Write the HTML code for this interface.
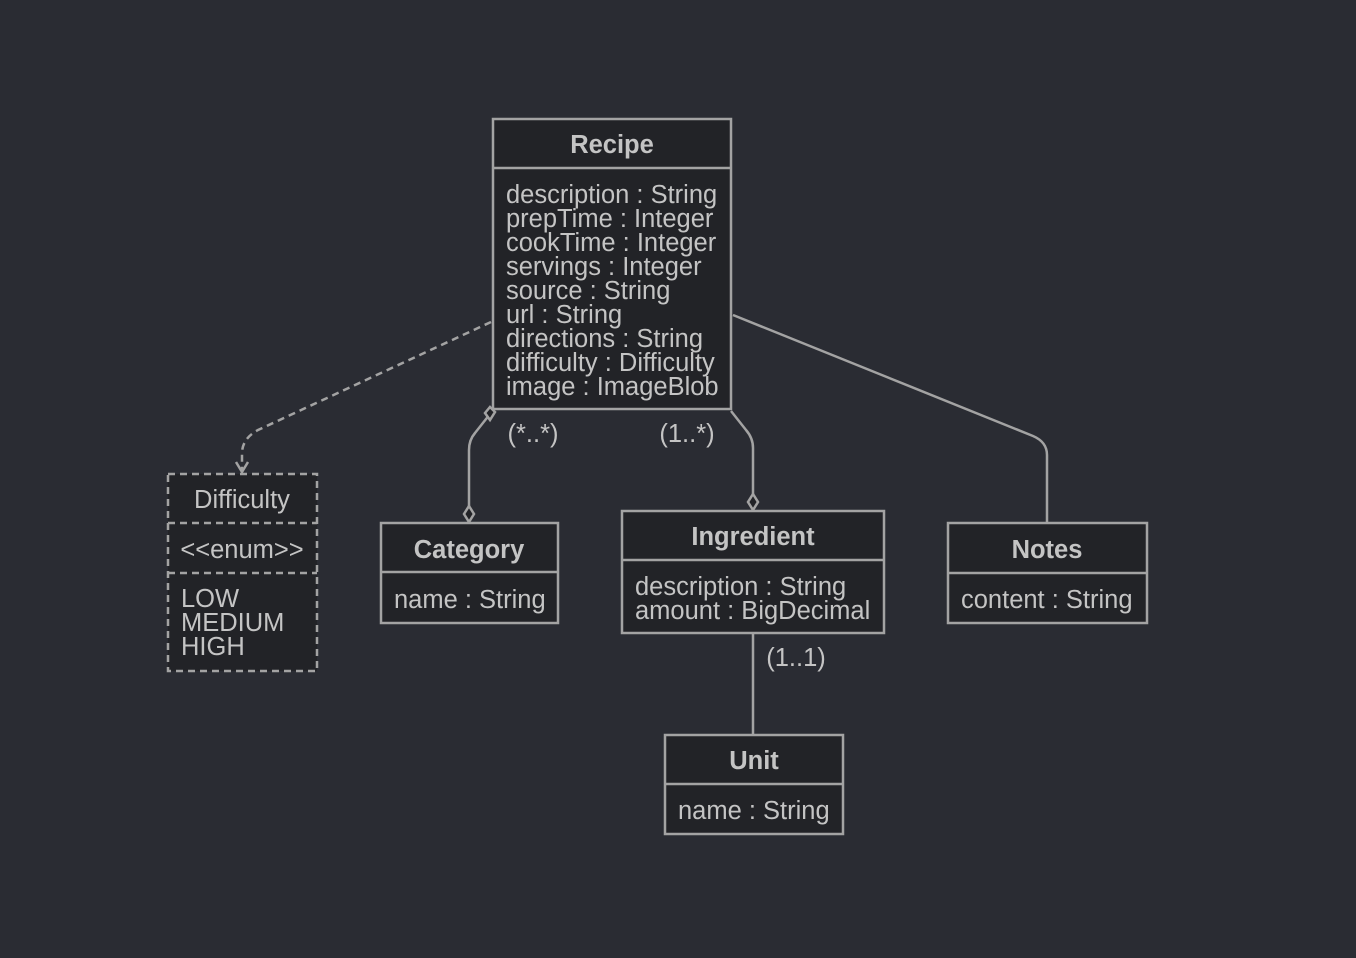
<!DOCTYPE html>
<html><head><style>
html,body{margin:0;padding:0;background:#2a2c33;}
svg{display:block;}
text{font-family:"Liberation Sans",sans-serif;fill:#c4c4c4;font-size:25.5px;}
.b{font-weight:bold;}
</style></head><body>
<svg width="1356" height="958" viewBox="0 0 1356 958">
<rect width="1356" height="958" fill="#2a2c33"/>
<g stroke="#a3a3a3" stroke-width="2.5" fill="none">
<path d="M491,322 L258,430 Q243,438 242,452 L242,470" stroke-dasharray="7,5"/>
<path d="M236,462 L242,472 L248,462"/>
<path d="M490,414 L475,433 Q469,440 469,450 L469,511"/>
<path d="M731,411 L746,430 Q753,438 753,448 L753,497"/>
<path d="M733,315 L1033,436 Q1047,442 1047,455 L1047,523"/>
<path d="M753,633 L753,735"/>
</g>
<g fill="#222327" stroke="#a3a3a3" stroke-width="2.5">
<path d="M490,407 L495,412 L490,420 L485,413 Z"/>
<path d="M469,506 L474,514 L469,522 L464,514 Z"/>
<path d="M753,494 L758,502 L753,510 L748,502 Z"/>
<rect x="493" y="119" width="238" height="290"/>
<line x1="493" y1="168" x2="731" y2="168"/>
<rect x="168" y="474" width="149" height="197" stroke-dasharray="7,5"/>
<line x1="168" y1="523" x2="317" y2="523" stroke-dasharray="7,5"/>
<line x1="168" y1="573" x2="317" y2="573" stroke-dasharray="7,5"/>
<rect x="381" y="523" width="177" height="100"/>
<line x1="381" y1="572" x2="558" y2="572"/>
<rect x="622" y="511" width="262" height="122"/>
<line x1="622" y1="560" x2="884" y2="560"/>
<rect x="948" y="523" width="199" height="100"/>
<line x1="948" y1="573" x2="1147" y2="573"/>
<rect x="665" y="735" width="178" height="99"/>
<line x1="665" y1="784" x2="843" y2="784"/>
</g>
<text class="b" x="612" y="153" text-anchor="middle">Recipe</text>
<text x="506" y="203">description : String</text>
<text x="506" y="227">prepTime : Integer</text>
<text x="506" y="251">cookTime : Integer</text>
<text x="506" y="275">servings : Integer</text>
<text x="506" y="299">source : String</text>
<text x="506" y="323">url : String</text>
<text x="506" y="347">directions : String</text>
<text x="506" y="371">difficulty : Difficulty</text>
<text x="506" y="395">image : ImageBlob</text>
<text x="242" y="508" text-anchor="middle">Difficulty</text>
<text x="242" y="558" text-anchor="middle">&lt;&lt;enum&gt;&gt;</text>
<text x="181" y="607">LOW</text>
<text x="181" y="631">MEDIUM</text>
<text x="181" y="655">HIGH</text>
<text class="b" x="469" y="558" text-anchor="middle">Category</text>
<text x="394" y="608">name : String</text>
<text class="b" x="753" y="545" text-anchor="middle">Ingredient</text>
<text x="635" y="595">description : String</text>
<text x="635" y="619">amount : BigDecimal</text>
<text class="b" x="1047" y="558" text-anchor="middle">Notes</text>
<text x="961" y="608">content : String</text>
<text class="b" x="754" y="769" text-anchor="middle">Unit</text>
<text x="678" y="819">name : String</text>
<text x="533" y="442" text-anchor="middle">(*..*)</text>
<text x="687" y="442" text-anchor="middle">(1..*)</text>
<text x="796" y="666" text-anchor="middle">(1..1)</text>
</svg>
</body></html>
